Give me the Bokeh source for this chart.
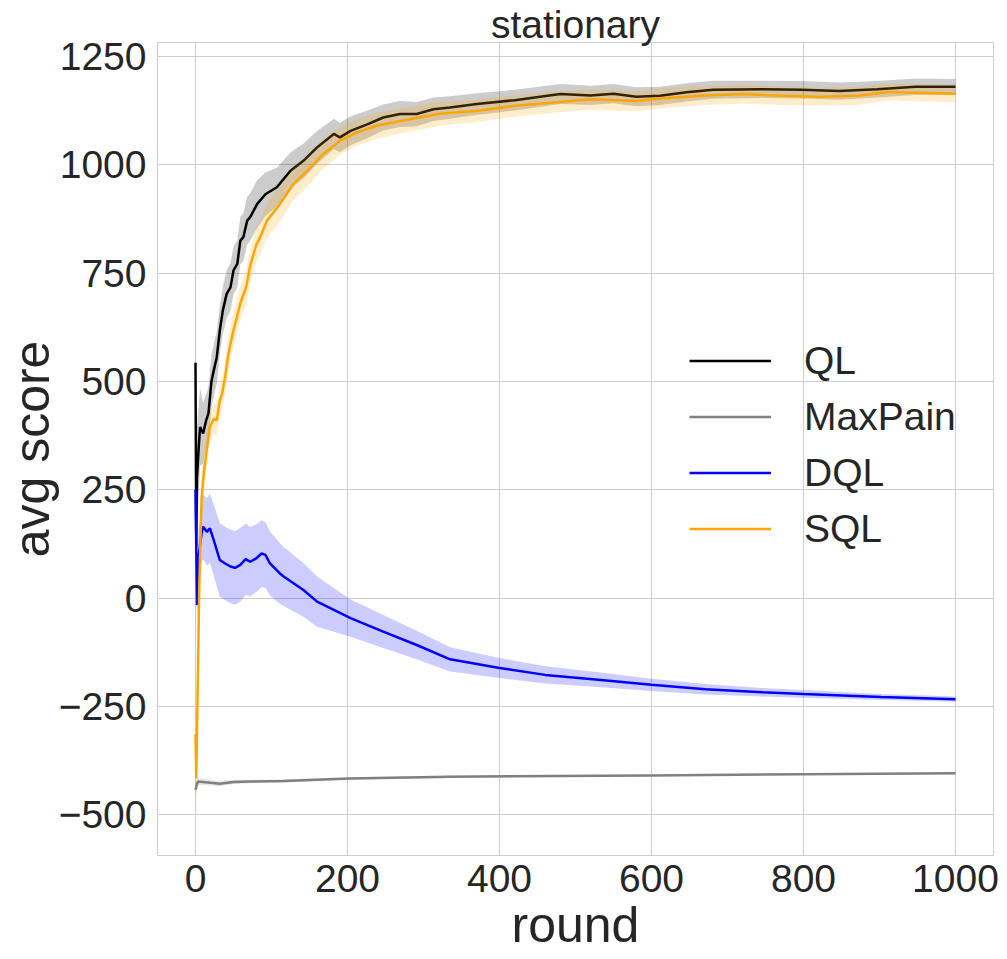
from bokeh.plotting import figure
from bokeh.models import Range1d, Legend, LegendItem, FixedTicker, Title
from bokeh.embed import file_html
from bokeh.resources import INLINE

# ---------------- data ----------------
TITLE = "stationary"
X_LABEL = "round"
Y_LABEL = "avg score"
X_TICKS = [0, 200, 400, 600, 800, 1000]
Y_TICKS = [-500, -250, 0, 250, 500, 750, 1000, 1250]
Y_TICK_LABELS = {-500: "\u2212500", -250: "\u2212250"}

SERIES_NAMES = ["QL", "MaxPain", "DQL", "SQL"]
SERIES_COLORS = ["black", "#808080", "#0000ff", "#ffa500"]

QL_x = [0, 1, 2, 4, 6, 10, 14, 17, 21, 24, 28, 32, 36, 41, 46, 50, 55, 59, 63, 68,
        72, 81, 92, 107, 125, 142, 160, 182, 190, 204, 226, 247, 269, 291, 313,
        335, 370, 420, 480, 520, 550, 580, 611, 646, 681, 746, 797, 847, 897, 947, 1000]
QL_mean = [543, 120, 280, 340, 395, 380, 410, 426, 500, 525, 556, 618, 664, 702, 717,
           756, 771, 825, 833, 871, 879, 909, 932, 948, 986, 1009, 1040, 1071, 1063, 1078,
           1093, 1109, 1117, 1117, 1128, 1132, 1140, 1149, 1163, 1160, 1164, 1157, 1159,
           1167, 1173, 1174, 1173, 1170, 1174, 1180, 1180]
QL_hi = [840, 270, 400, 440, 485, 450, 470, 486, 560, 585, 616, 673, 719, 757, 772,
         811, 826, 880, 888, 926, 934, 964, 982, 993, 1028, 1049, 1078, 1106, 1097, 1111,
         1125, 1139, 1147, 1145, 1155, 1158, 1165, 1173, 1186, 1182, 1186, 1179, 1180,
         1188, 1194, 1194, 1193, 1190, 1193, 1199, 1198]
QL_lo = [250, -30, 160, 240, 305, 310, 350, 366, 440, 465, 496, 563, 609, 647, 662,
         701, 716, 770, 778, 816, 824, 854, 882, 903, 944, 969, 1002, 1036, 1029, 1045,
         1061, 1079, 1087, 1089, 1101, 1106, 1115, 1125, 1140, 1138, 1142, 1135, 1138,
         1146, 1152, 1154, 1153, 1150, 1155, 1161, 1162]

MP_x = [0, 3, 20, 32, 50, 72, 116, 203, 335, 600, 800, 1000]
MP_mean = [-442, -423, -426, -428, -424, -423, -422, -416, -412, -409, -406, -404]
MP_hi = [-425, -415, -420, -422, -419, -419, -418, -413, -409, -407, -404, -402]
MP_lo = [-459, -431, -432, -434, -429, -427, -426, -419, -415, -411, -408, -406]

DQL_x = [0, 2, 4, 8, 10, 15, 19, 24, 32, 39, 46, 52, 59, 66, 72, 80, 87, 92, 98, 111,
         116, 142, 160, 204, 247, 291, 335, 400, 460, 530, 600, 671, 746, 800, 902, 1000]
DQL_mean = [250, -16, 96, 150, 165, 153, 161, 134, 88, 80, 73, 70, 77, 90, 84, 92, 103,
            100, 80, 57, 50, 19, -8, -46, -77, -108, -141, -161, -177, -188, -200, -210,
            -217, -221, -228, -233]
DQL_hi = [270, 29, 156, 220, 240, 231, 241, 216, 173, 165, 158, 155, 162, 172, 164, 170,
          180, 176, 154, 127, 118, 81, 50, -3, -39, -75, -113, -138, -157, -171, -186,
          -198, -207, -212, -221, -227]
DQL_lo = [230, -61, 36, 80, 90, 75, 81, 52, 3, -5, -12, -15, -8, 8, 4, 14, 26, 24, 6,
          -13, -18, -43, -66, -89, -115, -141, -169, -184, -197, -205, -214, -222, -227,
          -230, -235, -239]

SQL_x = [0, 1, 5, 8, 11, 15, 19, 24, 28, 32, 35, 39, 43, 46, 50, 54, 59, 63, 67, 72,
         80, 87, 94, 111, 129, 147, 168, 190, 212, 238, 269, 319, 335, 370, 420, 480,
         520, 580, 620, 671, 721, 771, 821, 871, 911, 1000]
SQL_mean = [-314, -416, 30, 230, 290, 345, 395, 414, 410, 456, 472, 510, 560, 587, 618,
            645, 680, 700, 720, 767, 815, 840, 871, 909, 956, 986, 1025, 1055, 1074, 1090,
            1101, 1117, 1120, 1124, 1136, 1145, 1151, 1147, 1154, 1160, 1163, 1159, 1157,
            1159, 1168, 1164]
SQL_hi = [-269, -323, 110, 290, 340, 385, 430, 449, 445, 491, 507, 548, 600, 627, 658,
          685, 720, 740, 760, 807, 855, 880, 911, 949, 994, 1022, 1059, 1087, 1105, 1120,
          1130, 1145, 1147, 1150, 1161, 1169, 1175, 1170, 1177, 1182, 1185, 1180, 1178,
          1180, 1188, 1184]
SQL_lo = [-359, -509, -50, 170, 240, 305, 360, 379, 375, 421, 437, 472, 520, 547, 578,
          605, 640, 660, 680, 727, 775, 800, 831, 869, 918, 950, 991, 1023, 1043, 1060,
          1072, 1089, 1093, 1098, 1111, 1121, 1127, 1124, 1131, 1138, 1141, 1138, 1136,
          1138, 1148, 1144]

# ---------------- figure ----------------
FONT = "Liberation Sans"
TXT = "#262626"

p = figure(width=1000, height=955, output_backend="svg", toolbar_location=None,
           title=None,
           x_range=Range1d(-50, 1050), y_range=Range1d(-593.7, 1282),
           min_border_left=157, min_border_right=7,
           min_border_top=42, min_border_bottom=99)
p.background_fill_color = "white"
p.border_fill_color = "white"
p.outline_line_color = "#cccccc"
p.outline_line_width = 1

title = Title(text=TITLE, align="center", text_font=FONT, text_font_size="39px",
              text_color=TXT, text_font_style="normal", standoff=-6, offset=0)
p.add_layout(title, "above")

p.xaxis.ticker = FixedTicker(ticks=X_TICKS)
p.yaxis.ticker = FixedTicker(ticks=Y_TICKS)
p.yaxis.major_label_overrides = Y_TICK_LABELS
p.xaxis.axis_label = X_LABEL
p.yaxis.axis_label = Y_LABEL
for ax in (p.xaxis, p.yaxis):
    ax.axis_line_color = None
    ax.major_tick_line_color = None
    ax.minor_tick_line_color = None
    ax.major_tick_out = 0
    ax.major_tick_in = 0
    ax.minor_tick_out = 0
    ax.minor_tick_in = 0
    ax.major_label_text_font = FONT
    ax.major_label_text_font_size = "39px"
    ax.major_label_text_color = TXT
    ax.axis_label_text_font = FONT
    ax.axis_label_text_font_size = "50px"
    ax.axis_label_text_font_style = "normal"
    ax.axis_label_text_color = TXT
p.xaxis.major_label_standoff = 9
p.yaxis.major_label_standoff = 11
p.xaxis.axis_label_standoff = 2
p.yaxis.axis_label_standoff = -4

p.grid.grid_line_color = "#cccccc"
p.grid.grid_line_width = 1

series = [
    (QL_x, QL_mean, QL_lo, QL_hi),
    (MP_x, MP_mean, MP_lo, MP_hi),
    (DQL_x, DQL_mean, DQL_lo, DQL_hi),
    (SQL_x, SQL_mean, SQL_lo, SQL_hi),
]
line_renderers = []
for (xs, m, lo, hi), col in zip(series, SERIES_COLORS):
    p.varea(x=xs, y1=lo, y2=hi, fill_color=col, fill_alpha=0.2)
    r = p.line(xs, m, line_color=col, line_width=2.5)
    line_renderers.append(r)

legend = Legend(items=[LegendItem(label=n, renderers=[r])
                       for n, r in zip(SERIES_NAMES, line_renderers)],
                location=(532, 304))
legend.label_text_font = FONT
legend.label_text_font_size = "39px"
legend.label_text_color = TXT
legend.glyph_width = 82
legend.glyph_height = 45
legend.label_height = 45
legend.spacing = 11
legend.label_standoff = 33
legend.padding = 0
legend.margin = 0
legend.border_line_color = None
legend.background_fill_alpha = 0
p.add_layout(legend)

open("out.html", "w").write(file_html(p, INLINE))
